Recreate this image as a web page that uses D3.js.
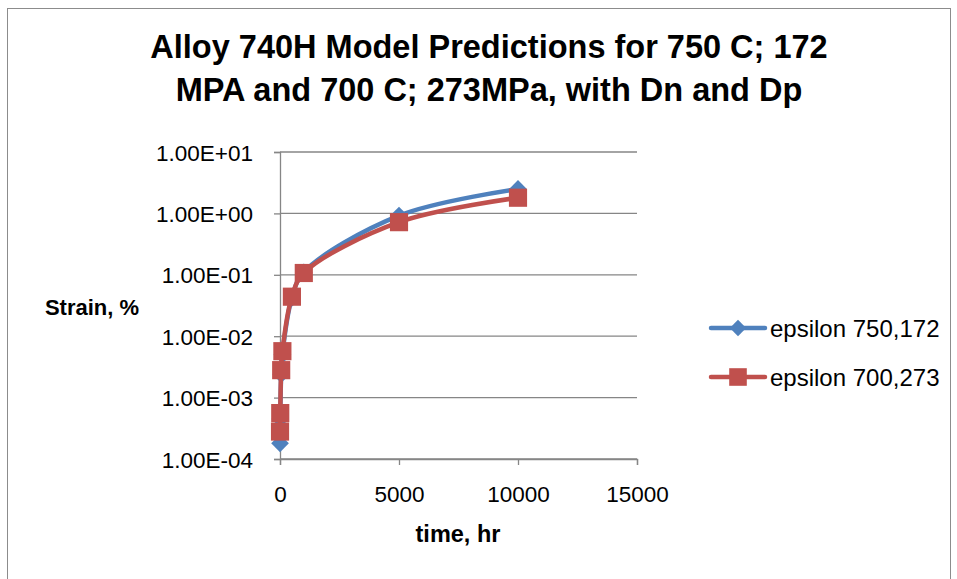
<!DOCTYPE html>
<html>
<head>
<meta charset="utf-8">
<script src="https://cdn.jsdelivr.net/npm/d3@7"></script>
<style>
  body { margin: 0; background: #fff; }
  svg { font-family: "Liberation Sans", Arial, sans-serif; }
</style>
</head>
<body>
<div class="chart-container"></div>
<script>
// time values (hr) shared by both series
const times = [1, 10, 50, 100, 500, 1000, 5000, 10000];

// strain, %
const eps750 = [1.8e-4, 4.5e-4, 2.4e-3, 5.0e-3, 4.2e-2, 1.1e-1, 0.92, 2.5];
const eps700 = [2.8e-4, 5.6e-4, 2.8e-3, 5.7e-3, 4.4e-2, 1.07e-1, 0.72, 1.8];

const seriesNames = ["epsilon 750,172", "epsilon 700,273"];

const xTicks = [0, 5000, 10000, 15000];
const yTicks = [1e-4, 1e-3, 1e-2, 1e-1, 1e0, 1e1];
const yTickLabels = ["1.00E-04", "1.00E-03", "1.00E-02", "1.00E-01", "1.00E+00", "1.00E+01"];

const titleLines = ["Alloy 740H Model Predictions for 750 C; 172", "MPA and 700 C; 273MPa, with Dn and Dp"];

drawChart();

function drawChart() {
    const width = 957, height = 579;
    const left = 280, right = 637, top = 152, bottom = 459;

    const svg = d3.select(".chart-container").append("svg")
        .attr("width", width)
        .attr("height", height);

    // chart border
    svg.append("rect")
        .attr("x", 7.5).attr("y", 8.5)
        .attr("width", 943).attr("height", 600)
        .attr("fill", "none")
        .attr("stroke", "#8c8c8c")
        .attr("stroke-width", 1);

    const x = d3.scaleLinear().domain([0, 15000]).range([left, right]);
    const y = d3.scaleLog().domain([1e-4, 10]).range([bottom, top]);

    // gridlines
    svg.append("g")
        .selectAll("line")
        .data(yTicks)
        .enter().append("line")
        .attr("x1", left).attr("x2", right)
        .attr("y1", d => y(d)).attr("y2", d => y(d))
        .attr("stroke", "#868686")
        .attr("stroke-width", 1.3);

    // y axis
    const yAxis = svg.append("g")
        .attr("transform", `translate(${left},0)`)
        .call(d3.axisLeft(y).tickValues(yTicks).tickFormat((d, i) => yTickLabels[i]).tickSize(6).tickPadding(21));
    yAxis.select(".domain").attr("stroke", "#868686").attr("stroke-width", 1.3);
    yAxis.selectAll(".tick line").attr("stroke", "#868686").attr("stroke-width", 1.3);
    yAxis.selectAll(".tick text")
        .attr("font-family", "Liberation Sans, Arial, sans-serif")
        .attr("font-size", 22.5)
        .attr("fill", "#000")
        .attr("dy", "0.36em");

    // x axis
    const xAxis = svg.append("g")
        .attr("transform", `translate(0,${bottom})`)
        .call(d3.axisBottom(x).tickValues(xTicks).tickFormat(d3.format("d")).tickSize(6).tickPadding(21));
    xAxis.select(".domain").attr("stroke", "#868686").attr("stroke-width", 1.3);
    xAxis.selectAll(".tick line").attr("stroke", "#868686").attr("stroke-width", 1.3);
    xAxis.selectAll(".tick text")
        .attr("font-family", "Liberation Sans, Arial, sans-serif")
        .attr("font-size", 22.5)
        .attr("fill", "#000");

    const series = [
        { name: seriesNames[0], values: eps750, color: "#4F81BD", marker: "diamond" },
        { name: seriesNames[1], values: eps700, color: "#C0504D", marker: "square" }
    ];

    const line = d3.line()
        .x(d => x(d.t))
        .y(d => y(d.v))
        .curve(d3.curveCatmullRom);

    const markerPath = {
        diamond: d3.symbol().type(d3.symbolDiamond2).size(200),
        square: d3.symbol().type(d3.symbolSquare).size(330)
    };

    series.forEach(s => {
        const pts = times.map((t, i) => ({ t: t, v: s.values[i] }));
        const g = svg.append("g");
        g.append("path")
            .datum(pts)
            .attr("d", line)
            .attr("fill", "none")
            .attr("stroke", s.color)
            .attr("stroke-width", 4.5)
            .attr("stroke-linejoin", "round")
            .attr("stroke-linecap", "round");
        g.selectAll("path.pt")
            .data(pts)
            .enter().append("path")
            .attr("class", "pt")
            .attr("transform", d => `translate(${x(d.t)},${y(d.v)})`)
            .attr("d", markerPath[s.marker])
            .attr("fill", s.color);
    });

    // legend
    const legend = svg.append("g");
    series.forEach((s, i) => {
        const ly = 328 + i * 49;
        legend.append("line")
            .attr("x1", 711).attr("x2", 765)
            .attr("y1", ly).attr("y2", ly)
            .attr("stroke", s.color)
            .attr("stroke-width", 4.5)
            .attr("stroke-linecap", "round");
        legend.append("path")
            .attr("transform", `translate(738,${ly})`)
            .attr("d", s.marker === "diamond"
                ? d3.symbol().type(d3.symbolDiamond2).size(170)()
                : d3.symbol().type(d3.symbolSquare).size(310)())
            .attr("fill", s.color);
        legend.append("text")
            .attr("x", 770).attr("y", ly)
            .attr("dy", "0.36em")
            .attr("font-size", 24)
            .attr("fill", "#000")
            .text(s.name);
    });

    // title
    svg.append("text")
        .attr("text-anchor", "middle")
        .attr("font-weight", "bold")
        .attr("font-size", 32.5)
        .attr("fill", "#000")
        .selectAll("tspan")
        .data(titleLines)
        .enter().append("tspan")
        .attr("x", 489)
        .attr("y", (d, i) => 58 + i * 43)
        .text(d => d);

    // axis titles
    svg.append("text")
        .attr("x", 92).attr("y", 315)
        .attr("text-anchor", "middle")
        .attr("font-weight", "bold")
        .attr("font-size", 22)
        .text("Strain, %");

    svg.append("text")
        .attr("x", 458).attr("y", 542)
        .attr("text-anchor", "middle")
        .attr("font-weight", "bold")
        .attr("font-size", 23.5)
        .text("time, hr");
}
</script>
</body>
</html>
